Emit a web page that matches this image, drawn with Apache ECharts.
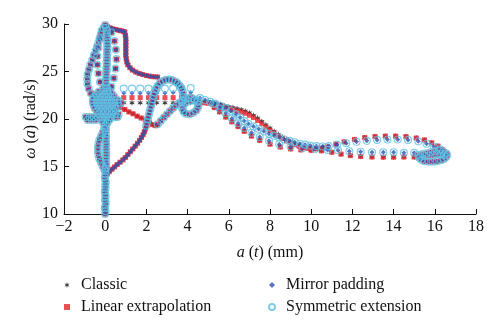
<!DOCTYPE html>
<html>
<head>
<meta charset="utf-8">
<script src="https://cdn.jsdelivr.net/npm/echarts@6/dist/echarts.min.js"></script>
<style>
  html, body { margin: 0; padding: 0; background: #fff; }
  #chart { width: 500px; height: 333px; }
</style>
</head>
<body>
<div id="chart"></div>
<script>
// Axis ticks
const xTicks = [-2, 0, 2, 4, 6, 8, 10, 12, 14, 16, 18];
const yTicks = [10, 15, 20, 25, 30];

// Series names
const seriesNames = ['Classic', 'Linear extrapolation', 'Mirror padding', 'Symmetric extension'];

// Trajectory sections shared by the reconstructions: [a(t), ω(a)]
const stem = [
  [0,10.0],[0.02,10.3],[-0.02,10.6],[0.01,10.9],[0.03,11.2],[-0.01,11.5],[0.02,11.8],[0,12.1],
  [-0.02,12.4],[0.02,12.7],[0,13.0],[0.03,13.3],[0,13.6],[-0.02,13.9],[0.02,14.2],[0,14.5],
  [0.03,14.8],[0.05,15.1],[0.05,15.4],[0.03,15.7],[0.05,16.0],[0.04,16.3],[0.05,16.6],[0.03,16.9],
  [0.05,17.2],[0.04,17.5],[0.03,17.8],[0.04,18.1],[0.02,18.4],[0.03,18.7],[0.04,19.0],[0.02,19.3],
  [0.05,23.3],[0.02,23.6],[0.06,23.9],[0.03,24.2],[0.07,24.5],[0.04,24.8],[0.08,25.1],[0.05,25.4],
  [0.09,25.7],[0.06,26.0],[0.1,26.3],[0.07,26.6],[0.11,26.9],[0.08,27.2],[0.12,27.5],[0.09,27.8],
  [0.12,28.1],[0.08,28.4],[0.11,28.7],[0.07,29.0],[0.08,29.3],[0.04,29.6],[0.0,29.9]
];
const leftLow = [
  [-0.05,14.7],[-0.12,15.0],[-0.2,15.4],[-0.28,15.8],[-0.33,16.2],[-0.35,16.6],[-0.35,17.0],
  [-0.33,17.4],[-0.28,17.8],[-0.2,18.2],[-0.12,18.6],[-0.05,19.0]
];
const blob = [
  [-0.1,23.2],[0.1,23.2],
  [-0.3,22.9],[-0.1,22.9],[0.1,22.9],[0.25,22.9],
  [-0.45,22.6],[-0.25,22.6],[-0.05,22.6],[0.15,22.6],[0.35,22.6],
  [-0.55,22.3],[-0.35,22.3],[-0.15,22.3],[0.05,22.3],[0.25,22.3],[0.45,22.3],
  [-0.6,22.0],[-0.4,22.0],[-0.2,22.0],[0,22.0],[0.2,22.0],[0.4,22.0],[0.6,22.0],
  [-0.6,21.7],[-0.4,21.7],[-0.2,21.7],[0,21.7],[0.2,21.7],[0.4,21.7],[0.6,21.7],[0.75,21.7],
  [-0.55,21.4],[-0.35,21.4],[-0.15,21.4],[0.05,21.4],[0.25,21.4],[0.45,21.4],[0.65,21.4],
  [-0.5,21.1],[-0.3,21.1],[-0.1,21.1],[0.1,21.1],[0.3,21.1],[0.5,21.1],
  [-0.4,20.8],[-0.2,20.8],[0,20.8],[0.2,20.8],[0.4,20.8],
  [-0.3,20.5],[-0.1,20.5],[0.1,20.5],[0.3,20.5],[0.5,20.5],[0.65,20.5],
  [-0.95,20.2],[-0.75,20.2],[-0.55,20.2],[-0.35,20.2],[-0.15,20.2],[0.05,20.2],[0.25,20.2],[0.45,20.2],[0.6,20.2],
  [-0.85,19.9],[-0.65,19.9],[-0.45,19.9],[-0.2,19.9],[0,19.9],[0.2,19.9],
  [-0.1,19.6],[0.1,19.6]
];
const diagonalLow = [
  [0.1,14.2],[0.2,14.45],[0.32,14.7],[0.45,14.95],[0.58,15.2],[0.72,15.45],[0.86,15.7],[0.98,15.95],
  [1.1,16.25],[1.22,16.55],[1.34,16.85],[1.46,17.15],[1.57,17.45],[1.67,17.75],[1.76,18.05],[1.84,18.35],
  [1.9,18.65],[1.95,18.95]
];
const diagonalHigh = [
  [1.99,19.3],[2.03,19.65],[2.07,20.0],[2.11,20.35],[2.15,20.7],[2.19,21.05],
  [2.23,21.4],[2.27,21.75],[2.31,22.1],[2.35,22.45],[2.4,22.8],[2.46,23.15],[2.55,23.5],[2.66,23.8],
  [2.8,24.0],[2.95,24.12],[3.1,24.15],[3.25,24.1],[3.4,23.95],[3.52,23.75],[3.62,23.5],[3.7,23.2],
  [3.76,22.9],[3.79,22.6],[3.8,22.3],[3.77,22.0],[3.72,21.75]
];
const loopToSmall = [
  [2.55,19.45],[2.7,19.8],[2.85,20.15],[3.0,20.5],[3.15,20.85],[3.3,21.15],[3.45,21.45],[3.6,21.7],
  [3.75,21.9],[3.9,22.1],[4.05,22.2],[4.2,22.2],[4.35,22.05],[4.46,21.8],[4.52,21.5],[4.5,21.2],
  [4.42,20.9],[4.28,20.65],[4.1,20.5],[3.92,20.55],[3.8,20.8],[3.74,21.1],[3.78,21.4],[3.88,21.65],
  [4.02,21.85],[4.18,21.95],[4.34,22.0],[4.5,21.95]
];
const topBand = [
  [0.1,29.75],[0.22,29.6],[0.36,29.5],[0.5,29.42],[0.64,29.35],[0.78,29.28],[0.9,29.22]
];
const rightCurve = [
  [0.95,29.15],[0.98,28.8],[1.0,28.45],[1.0,28.1],[1.0,27.75],[1.0,27.4],[1.0,27.05],[1.0,26.7],
  [1.02,26.35],[1.05,26.0],[1.1,25.7],[1.2,25.4],[1.32,25.15],[1.48,24.95],[1.65,24.8],[1.82,24.68],
  [2.0,24.58],[2.18,24.5],[2.36,24.45],[2.54,24.42]
];
const endLoop = [
  [15.2,16.2],[15.4,16.3],[15.6,16.4],[15.8,16.5],[16.0,16.6],[16.2,16.65],[16.4,16.6],[16.55,16.4],
  [16.6,16.2],[16.55,16.0],[16.45,15.8],[16.3,15.65],[16.1,15.55],[15.9,15.5],[15.7,15.5],[15.5,15.55],
  [15.35,15.7],[15.25,15.9],[15.3,16.05],[15.5,16.1],[15.7,16.15],[15.9,16.2],[16.1,16.3],[16.3,16.3],
  [16.45,16.2]
];
const outerLeft = [
  [-0.7,22.7],[-0.8,23.2],[-0.86,23.7],[-0.87,24.2],[-0.85,24.7],[-0.79,25.2],[-0.72,25.7],
  [-0.63,26.2],[-0.55,26.7],[-0.47,27.15],[-0.4,27.6],[-0.33,28.05],[-0.27,28.5],[-0.22,28.9],
  [-0.17,29.3],[-0.08,29.6]
];
const innerRight = [
  [0.3,29.1],[0.45,28.2],[0.52,27.3],[0.55,26.3],[0.5,25.3],[0.42,24.3],[0.3,23.4]
];
const innerLeft = [
  [-0.25,28.4],[-0.33,27.5],[-0.38,26.6],[-0.38,25.7],[-0.33,24.8],[-0.25,23.9]
];

// Fast horizontal passage, one row per method
const rowClassic = [[0.9,21.7],[1.3,21.7],[1.7,21.7],[2.1,21.7],[2.5,21.7],[2.9,21.7],[3.3,21.7],[3.7,21.7],[4.15,21.7]];
const rowLinear = [[0.9,22.25],[1.3,22.25],[1.7,22.25],[2.1,22.25],[2.5,22.25],[2.9,22.25],[3.3,22.25],[3.7,22.3],[4.15,22.3]];
const rowMirror = [[0.9,22.75],[1.3,22.75],[1.7,22.75],[2.1,22.75],[2.5,22.75],[2.9,22.75],[3.3,22.8],[3.7,22.8],[4.15,22.8]];
const rowSymmetric = [[0.9,23.2],[1.3,23.2],[1.7,23.2],[2.1,23.2],[2.5,23.2],[2.9,23.2],[3.3,23.25],[3.7,23.25],[4.15,23.25]];

// Descent from the central cluster (classic and linear)
const descentClassicLinear = [
  [0.75,21.2],[0.95,21.0],[1.15,20.75],[1.35,20.55],[1.55,20.3],[1.75,20.1],[1.95,19.85],[2.15,19.6],[2.3,19.4],[2.45,19.3]
];

// Slow upper band of the right-hand excursion, classic sits slightly higher
const upperClassic = [
  [4.6,21.85],[4.8,21.8],[5.0,21.8],[5.2,21.75],[5.4,21.65],[5.6,21.55],[5.8,21.4],[6.0,21.3],
  [6.2,21.2],[6.4,21.1],[6.6,21.0],[6.8,20.85],[7.0,20.65],[7.2,20.4],[7.4,20.1],[7.6,19.75],
  [7.8,19.4],[8.0,19.05],[8.2,18.7],[8.4,18.4],[8.6,18.1],[8.8,17.85],[9.0,17.6],[9.2,17.4],
  [9.4,17.25],[9.6,17.1],[9.8,17.0],[10.0,16.95],[10.2,16.95],[10.4,17.0],[10.6,17.05],[10.8,17.1]
];
const upperLinear = [
  [4.6,21.75],[4.8,21.7],[5.0,21.65],[5.2,21.55],[5.4,21.45],[5.6,21.3],[5.8,21.15],[6.0,21.05],
  [6.2,20.95],[6.4,20.85],[6.6,20.75],[6.8,20.6],[7.0,20.4],[7.2,20.15],[7.4,19.85],[7.6,19.5],
  [7.8,19.15],[8.0,18.8],[8.2,18.5],[8.4,18.2],[8.6,17.95],[8.8,17.7],[9.0,17.5],[9.2,17.3],
  [9.4,17.15],[9.6,17.0],[9.8,16.9],[10.0,16.85],[10.2,16.85],[10.4,16.9],[10.6,16.95],[10.8,17.05]
];
// Remainder of the excursion (classic and linear)
const rightClassicLinear = [
  [11.2,17.35],[11.6,17.6],[12.1,17.85],[12.6,18.05],[13.1,18.15],[13.6,18.2],[14.1,18.2],[14.6,18.15],
  [15.1,18.0],[15.5,17.8],[15.85,17.5],[16.15,17.15],[16.35,16.8],
  [15.0,16.0],[14.5,16.0],[14.0,15.98],[13.5,15.98],[12.95,16.0],[12.4,16.05],[11.9,16.15],[11.45,16.3],
  [11.0,16.5],[10.5,16.65],[10.0,16.7],[9.5,16.75],[9.0,16.85],[8.5,17.05],[8.0,17.35],[7.5,17.75],
  [7.1,18.2],[6.75,18.7],[6.45,19.2],[6.15,19.7],[5.85,20.2],[5.55,20.75],[5.3,21.2]
];
const rightMirrorSymmetric = [
  [4.6,22.2],[4.85,22.0],[5.1,21.8],[5.35,21.6],[5.6,21.4],[5.85,21.15],[6.1,20.85],[6.35,20.5],
  [6.55,20.15],[6.75,19.8],[6.95,19.5],[7.2,19.2],[7.45,18.95],[7.7,18.7],[7.95,18.45],[8.2,18.25],
  [8.45,18.05],[8.7,17.85],[8.95,17.7],[9.2,17.55],[9.45,17.4],[9.7,17.3],[9.95,17.2],[10.25,17.15],
  [10.55,17.1],[10.85,17.15],
  [11.25,17.3],[11.7,17.45],[12.2,17.6],[12.7,17.7],[13.2,17.8],[13.7,17.85],[14.2,17.85],[14.7,17.8],
  [15.2,17.65],[15.6,17.4],[15.95,17.1],[16.25,16.8],
  [15.0,16.45],[14.5,16.45],[14.0,16.5],[13.5,16.5],[12.95,16.5],[12.4,16.55],[11.85,16.6],[11.3,16.7],
  [10.8,16.75],[10.2,16.85],[9.6,16.95],[9.0,17.1],[8.45,17.35],[7.95,17.7],[7.5,18.1],[7.1,18.55],
  [6.75,19.05],[6.45,19.55],[6.15,20.05],[5.85,20.6],[5.55,21.1],[5.25,21.6]
];

const sharedCore = [].concat(stem, leftLow, blob, diagonalHigh, loopToSmall, endLoop,
  outerLeft, innerRight, innerLeft);
const sharedOuter = [].concat(diagonalLow, topBand, rightCurve);

const classicData = [].concat(sharedCore, sharedOuter, rowClassic, descentClassicLinear, upperClassic, rightClassicLinear);
const linearData = [].concat(sharedCore, sharedOuter, rowLinear, descentClassicLinear, upperLinear, rightClassicLinear);
const mirrorData = [].concat(sharedCore, sharedOuter, rowMirror, rightMirrorSymmetric);
const symmetricData = [].concat(sharedCore, rowSymmetric, rightMirrorSymmetric);

// Asterisk-like marker for the classic method
function starPath(points, outer, inner) {
  let d = '';
  for (let i = 0; i < points * 2; i++) {
    const ang = i * Math.PI / points - Math.PI / 2;
    const r = i % 2 ? inner : outer;
    d += (i ? 'L' : 'M') + (r * Math.cos(ang)).toFixed(3) + ' ' + (r * Math.sin(ang)).toFixed(3);
  }
  return 'path://' + d + 'Z';
}
const asterisk = starPath(6, 10, 4);

const FONT = 'Liberation Serif';
const chart = echarts.init(document.getElementById('chart'), null, { renderer: 'canvas' });

const legendText = { fontFamily: FONT, fontSize: 16, color: '#111', padding: [0, 0, 0, 6] };
const italicRich = { i: { fontFamily: FONT, fontSize: 16, fontStyle: 'italic', color: '#111' } };

chart.setOption({
  animation: false,
  backgroundColor: '#fff',
  grid: { left: 64, right: 24, top: 24, bottom: 119, containLabel: false },
  // Vertical axis title, placed beside the tick labels
  graphic: [{
    type: 'text', x: 31, y: 119, rotation: Math.PI / 2, silent: true,
    style: {
      text: '{i|\u03c9} ({i|a}) (rad/s)', fontFamily: FONT, fontSize: 16, fill: '#111',
      align: 'center', verticalAlign: 'middle', rich: italicRich
    }
  }],
  xAxis: {
    type: 'value', min: xTicks[0], max: xTicks[xTicks.length - 1], interval: 2,
    name: '{i|a} ({i|t}) (mm)', nameLocation: 'middle', nameGap: 31,
    nameTextStyle: { fontFamily: FONT, fontSize: 16, color: '#111', rich: italicRich },
    axisLine: { onZero: false, lineStyle: { color: '#111', width: 1 } },
    axisTick: { inside: true, length: 5, lineStyle: { color: '#111' } },
    axisLabel: { fontFamily: FONT, fontSize: 16, color: '#111', margin: 5,
      formatter: v => (v < 0 ? '\u2212' + Math.abs(v) : String(v)) },
    splitLine: { show: false }
  },
  yAxis: {
    type: 'value', min: yTicks[0], max: yTicks[yTicks.length - 1], interval: 5,
    axisLine: { show: true, onZero: false, lineStyle: { color: '#111', width: 1 } },
    axisTick: { show: true, inside: true, length: 5, lineStyle: { color: '#111' } },
    axisLabel: { fontFamily: FONT, fontSize: 16, color: '#111', margin: 6 },
    splitLine: { show: false }
  },
  legend: [
    {
      data: [seriesNames[0], seriesNames[1]], orient: 'vertical', left: 64, top: 277,
      itemWidth: 6, itemHeight: 6, itemGap: 6, textStyle: legendText, padding: 0
    },
    {
      data: [seriesNames[2], seriesNames[3]], orient: 'vertical', left: 268, top: 277,
      itemWidth: 6, itemHeight: 6, itemGap: 6, textStyle: legendText, padding: 0
    }
  ],
  series: [
    {
      name: seriesNames[0], type: 'scatter', data: classicData,
      symbol: asterisk, symbolSize: 6,
      itemStyle: { color: '#151515' }
    },
    {
      name: seriesNames[1], type: 'scatter', data: linearData,
      symbol: 'rect', symbolSize: 5,
      itemStyle: { color: '#e8212b' }
    },
    {
      name: seriesNames[2], type: 'scatter', data: mirrorData,
      symbol: 'diamond', symbolSize: 5,
      itemStyle: { color: '#2d55b5' }
    },
    {
      name: seriesNames[3], type: 'scatter', data: symmetricData,
      symbol: 'circle', symbolSize: 7,
      itemStyle: { color: 'rgba(255,255,255,0)', borderColor: '#5fc0e2', borderWidth: 1.1 }
    }
  ]
});
</script>
</body>
</html>
